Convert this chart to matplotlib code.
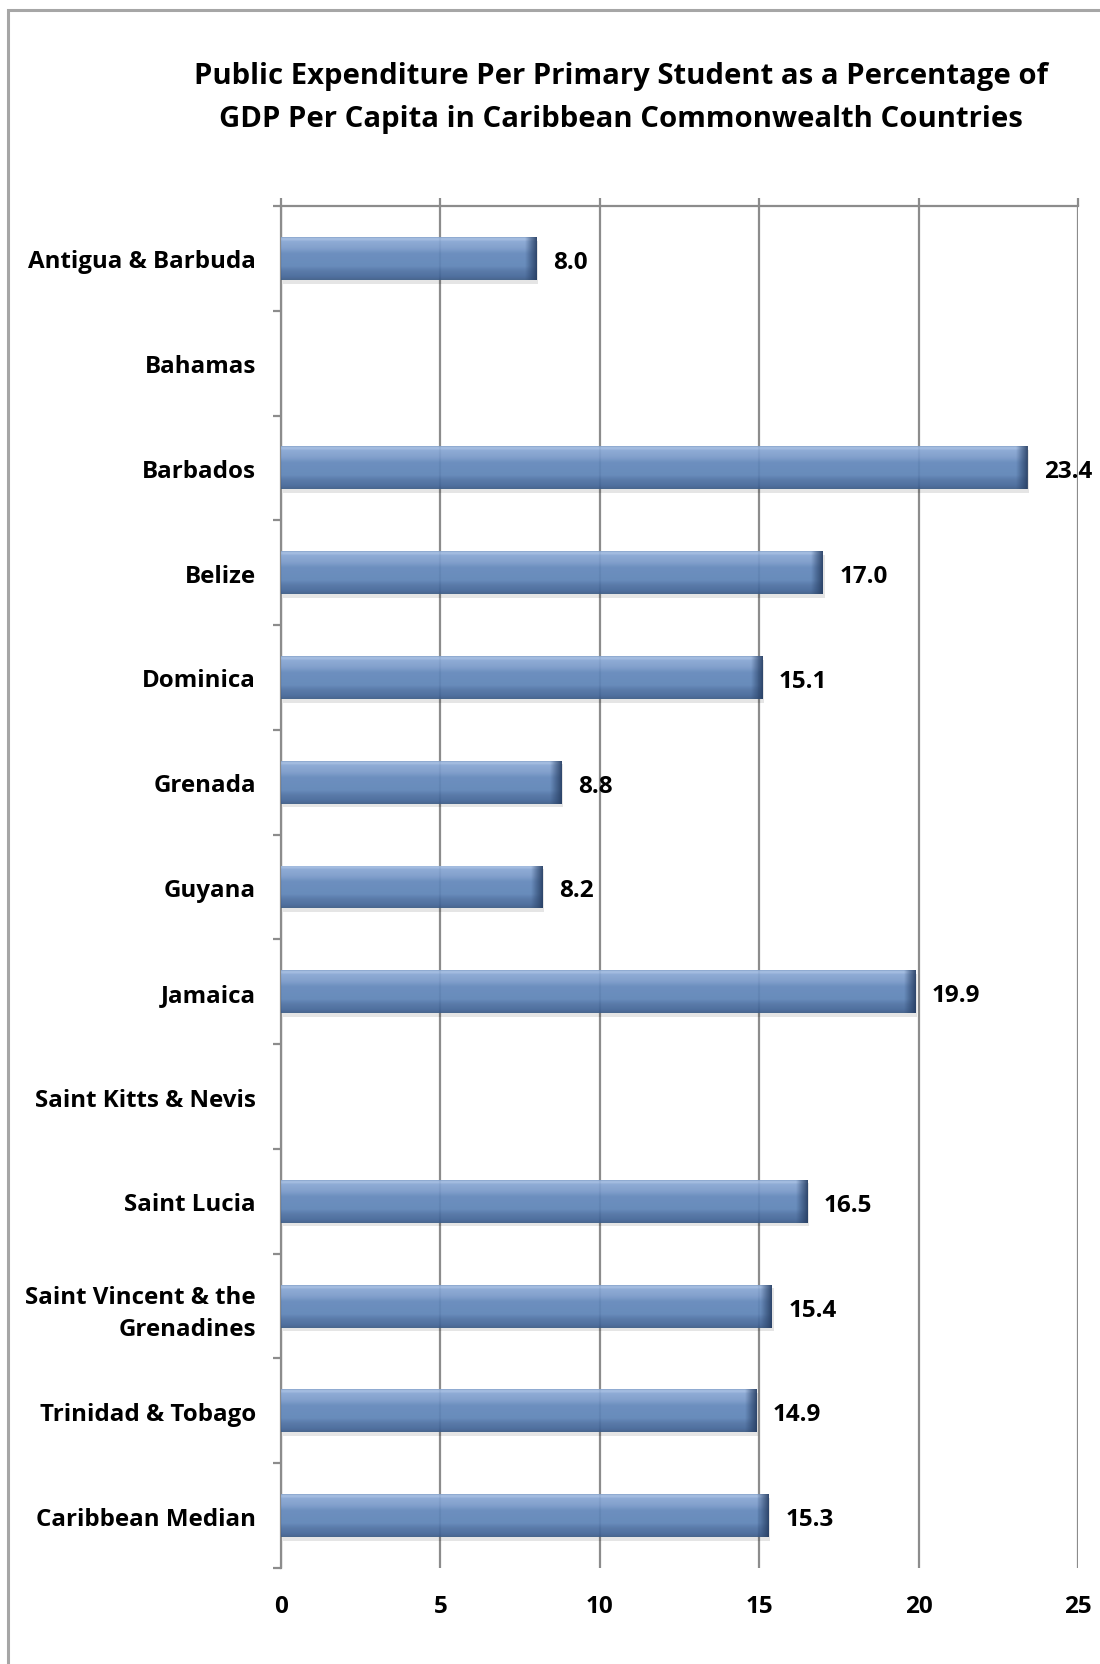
import numpy as np
import matplotlib
matplotlib.use("Agg")
import matplotlib.pyplot as plt
from matplotlib.patches import Rectangle
from matplotlib.colors import LinearSegmentedColormap

categories = ["Antigua & Barbuda", "Bahamas", "Barbados", "Belize", "Dominica",
              "Grenada", "Guyana", "Jamaica", "Saint Kitts & Nevis", "Saint Lucia",
              "Saint Vincent & the\nGrenadines", "Trinidad & Tobago", "Caribbean Median"]
values = [8.0, None, 23.4, 17.0, 15.1, 8.8, 8.2, 19.9, None, 16.5, 15.4, 14.9, 15.3]
x_ticks = [0, 5, 10, 15, 20, 25]
title = ("Public Expenditure Per Primary Student as a Percentage of\n"
         "GDP Per Capita in Caribbean Commonwealth Countries")

FONT = ["Open Sans", "DejaVu Sans"]
plt.rcParams["font.family"] = FONT

W, H = 1100, 1665
fig = plt.figure(figsize=(W / 100, H / 100), dpi=100)

# outer frame (left and top edges visible, rest runs off the image)
fig.patches.append(Rectangle((8 / W, -0.05), 1.2, 1 - 11 / H + 0.05,
                             transform=fig.transFigure, fill=False,
                             edgecolor="#a6a6a6", linewidth=2.2, zorder=0))

ax = fig.add_axes([281 / W, 1 - 1569 / H, (1078 - 281) / W, (1569 - 207) / H])

ypos = np.arange(len(categories))
vals = np.array([np.nan if v is None else v for v in values])
bar_h = 0.41
bars = ax.barh(ypos, np.nan_to_num(vals), height=bar_h, color="none",
               edgecolor="none", zorder=3)

cmap = LinearSegmentedColormap.from_list(
    "bev", [(0.0, "#3c5c86"), (0.08, "#45679a"), (0.22, "#5074a6"),
            (0.32, "#5f85b8"), (0.62, "#6489bc"), (0.74, "#7b9bcb"),
            (0.9, "#88a7d4"), (0.96, "#a3bde2"), (1.0, "#7f9dc8")])
end_cmap = LinearSegmentedColormap.from_list(
    "end", [(0, (0.17, 0.27, 0.42, 0.0)), (0.5, (0.17, 0.27, 0.42, 0.5)),
            (1, (0.15, 0.24, 0.38, 0.9))])
grad = np.linspace(0, 1, 256).reshape(-1, 1)
hgrad = np.linspace(0, 1, 64).reshape(1, -1)
for b, v in zip(bars, vals):
    if np.isnan(v):
        continue
    x0, y0 = b.get_x(), b.get_y()
    w, h = b.get_width(), b.get_height()
    # soft shadow
    ax.add_patch(Rectangle((x0 + 0.05, y0 + 0.035), w, h, facecolor="#000000",
                           alpha=0.10, edgecolor="none", zorder=2))
    im = ax.imshow(grad, extent=(x0, x0 + w, y0 + h, y0), origin="lower",
                   aspect="auto", cmap=cmap, zorder=3.5, alpha=0.93)
    im.set_clip_path(b)
    # darker right end (bevel)
    im2 = ax.imshow(hgrad, extent=(x0 + w - 0.36, x0 + w, y0 + h, y0),
                    aspect="auto", cmap=end_cmap, zorder=4)
    im2.set_clip_path(b)
    ax.annotate(f"{v:.1f}", xy=(x0 + w, b.get_y() + h / 2), xytext=(12, -2.5),
                textcoords="offset points", va="center", ha="left",
                fontsize=17.5, fontweight="bold", color="black", zorder=5)

ax.set_xlim(0, 25)
ax.set_ylim(len(categories) - 0.5, -0.5)
ax.set_xticks(x_ticks)
ax.set_xticklabels([str(t) for t in x_ticks], fontsize=17.5, fontweight="bold")
ax.tick_params(axis="x", top=True, bottom=False, labeltop=False, labelbottom=True,
               direction="out", length=6, width=1.6, color="#8c8c8c", pad=13)
ax.set_yticks(ypos)
ax.set_yticklabels(categories, fontsize=17.4, fontweight="bold", linespacing=1.45)
ax.set_yticks(np.arange(-0.5, len(categories), 1.0), minor=True)
ax.tick_params(axis="y", which="major", length=0, pad=18)
ax.tick_params(axis="y", which="minor", length=6, width=1.6, color="#8c8c8c",
               direction="out")
for lab in ax.get_yticklabels():
    lab.set_horizontalalignment("right")

ax.grid(axis="x", color="#8c8c8c", linewidth=1.6, zorder=1)
ax.set_axisbelow(True)
for s in ["right", "bottom"]:
    ax.spines[s].set_visible(False)
for s in ["left", "top"]:
    ax.spines[s].set_color("#8c8c8c")
    ax.spines[s].set_linewidth(1.6)

fig.text(621 / W, 1 - 98 / H, title, ha="center", va="center", fontsize=21.1,
         fontweight="bold", linespacing=1.6)

fig.savefig("out.png", dpi=100)
